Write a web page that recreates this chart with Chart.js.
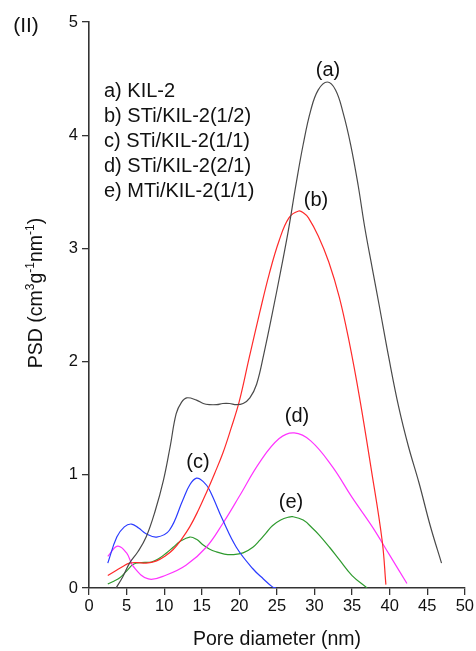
<!DOCTYPE html>
<html lang="en">
<head>
    <meta charset="UTF-8">
    <title>Pore size distribution</title>
    <style>
        body {
            margin: 0;
            background-color: #fff;
        }
        canvas {
            display: block;
        }
    </style>
</head>
<body>
    <canvas id="psd" width="476" height="651"></canvas>

    <script src="https://cdn.jsdelivr.net/npm/chart.js"></script>

    <script>
        // Curve samples (x = pore diameter nm, y = PSD)
        const kilX = [3.6, 4.5, 5.4, 6.5, 7.6, 8.8, 9.9, 10.8, 11.6, 12.3, 13.0, 14.3, 15.2, 16.0, 17.0, 17.8, 18.7, 19.6, 20.5, 21.4, 22.3, 23.3, 24.4, 25.5, 26.5, 27.5, 28.5, 29.5, 30.5, 31.7, 32.8, 33.8, 34.8, 35.8, 36.7, 37.7, 38.6, 39.9, 41.2, 42.5, 43.9, 45.4, 46.9];
        const kilY = [0, 0.1, 0.22, 0.32, 0.45, 0.68, 0.95, 1.25, 1.54, 1.64, 1.68, 1.66, 1.63, 1.62, 1.62, 1.63, 1.63, 1.62, 1.63, 1.68, 1.80, 2.08, 2.43, 2.80, 3.15, 3.55, 3.92, 4.22, 4.40, 4.47, 4.40, 4.20, 3.92, 3.56, 3.18, 2.82, 2.50, 2.03, 1.60, 1.25, 0.93, 0.55, 0.22];

        const sti12X = [2.5, 3.5, 4.5, 5.4, 6.5, 7.6, 9.0, 10.1, 11.2, 12.3, 13.4, 14.5, 15.6, 16.7, 17.8, 18.9, 20.0, 21.3, 22.7, 24.0, 25.3, 26.6, 27.9, 28.6, 29.2, 30.5, 31.9, 33.3, 34.6, 36.0, 37.5, 39.0, 39.5];
        const sti12Y = [0.11, 0.15, 0.19, 0.22, 0.225, 0.22, 0.24, 0.28, 0.34, 0.43, 0.54, 0.68, 0.84, 1.01, 1.19, 1.41, 1.65, 2.03, 2.43, 2.78, 3.07, 3.27, 3.33, 3.31, 3.27, 3.11, 2.88, 2.57, 2.18, 1.68, 1.07, 0.42, 0.03];

        const sti11X = [2.5, 3.7, 4.7, 5.65, 6.6, 7.6, 9.0, 10.7, 12.5, 13.4, 14.3, 15.2, 16.0, 17.8, 19.6, 21.8, 23.2, 24.4, 24.9];
        const sti11Y = [0.22, 0.45, 0.54, 0.565, 0.53, 0.48, 0.45, 0.51, 0.78, 0.91, 0.97, 0.94, 0.87, 0.60, 0.36, 0.17, 0.08, 0.01, 0];

        const sti21X = [2.5, 3.8, 5.0, 5.9, 7.9, 10.3, 12.9, 15.6, 17.8, 20.0, 22.7, 25.3, 27.3, 29.5, 32.4, 35.0, 37.7, 40.0, 42.3];
        const sti21Y = [0.28, 0.37, 0.31, 0.19, 0.08, 0.115, 0.20, 0.36, 0.57, 0.81, 1.11, 1.32, 1.37, 1.30, 1.07, 0.80, 0.54, 0.29, 0.04];

        const mti11X = [2.5, 3.3, 4.1, 5.0, 5.9, 7.0, 8.3, 9.3, 10.3, 11.2, 12.1, 13.4, 14.3, 15.2, 16.0, 16.9, 18.0, 19.1, 20.5, 21.8, 22.7, 23.6, 24.4, 25.5, 26.5, 27.1, 28.5, 29.7, 30.6, 32.0, 33.3, 35.0, 37.0];
        const mti11Y = [0.035, 0.06, 0.09, 0.15, 0.21, 0.225, 0.23, 0.26, 0.31, 0.36, 0.41, 0.45, 0.43, 0.38, 0.345, 0.32, 0.30, 0.295, 0.31, 0.36, 0.42, 0.49, 0.55, 0.60, 0.625, 0.63, 0.60, 0.53, 0.47, 0.36, 0.25, 0.11, 0];

        const legendLines = ['a) KIL-2', 'b) STi/KIL-2(1/2)', 'c) STi/KIL-2(1/1)', 'd) STi/KIL-2(2/1)', 'e) MTi/KIL-2(1/1)'];
        const curveTags = ['(a)', '(b)', '(c)', '(d)', '(e)'];

        const toPoints = (xs, ys) => xs.map((x, i) => ({ x: x, y: ys[i] }));

        const FONT = "'Liberation Sans', Arial, sans-serif";

        // text that is not part of the axes: panel tag, legend block, curve tags, axis titles
        const textPlugin = {
            id: 'figureText',
            afterDraw(chart) {
                const ctx = chart.ctx;
                ctx.save();
                ctx.fillStyle = '#111';
                ctx.textBaseline = 'middle';

                ctx.font = '21px ' + FONT;
                ctx.textAlign = 'center';
                ctx.fillText('(II)', 26, 26);

                ctx.font = '20px ' + FONT;
                ctx.textAlign = 'left';
                legendLines.forEach((t, i) => ctx.fillText(t, 104, 91 + i * 25));

                ctx.textAlign = 'center';
                const tagPos = [[328, 70], [316, 200], [198, 462], [297, 416], [291, 502]];
                curveTags.forEach((t, i) => ctx.fillText(t, tagPos[i][0], tagPos[i][1]));

                // x title
                ctx.font = '19.5px ' + FONT;
                ctx.textBaseline = 'alphabetic';
                ctx.fillText('Pore diameter (nm)', 277, 645);

                // y title with superscripts
                const parts = [['PSD (cm', 0], ['3', 1], ['g', 0], ['-1', 1], ['nm', 0], ['-1', 1], [')', 0]];
                const big = '19.5px ' + FONT, small = '12px ' + FONT;
                let total = 0;
                parts.forEach(p => { ctx.font = p[1] ? small : big; total += ctx.measureText(p[0]).width; });
                ctx.translate(42, 293);
                ctx.rotate(-Math.PI / 2);
                let x = -total / 2;
                ctx.textAlign = 'left';
                parts.forEach(p => {
                    ctx.font = p[1] ? small : big;
                    ctx.fillText(p[0], x, p[1] ? -8 : 0);
                    x += ctx.measureText(p[0]).width;
                });
                ctx.restore();
            }
        };

        const axisColor = '#333';

        new Chart(document.getElementById('psd').getContext('2d'), {
            type: 'line',
            data: {
                datasets: [
                    { data: toPoints(kilX, kilY), borderColor: '#4a4a4a' },
                    { data: toPoints(sti12X, sti12Y), borderColor: '#ff2a2a' },
                    { data: toPoints(sti11X, sti11Y), borderColor: '#2b3cff' },
                    { data: toPoints(sti21X, sti21Y), borderColor: '#ff33ff' },
                    { data: toPoints(mti11X, mti11Y), borderColor: '#2e9a2e' }
                ]
            },
            options: {
                responsive: false,
                animation: false,
                events: [],
                layout: { padding: { top: 22, right: 10, left: 0, bottom: 0 } },
                elements: {
                    line: { borderWidth: 1.2, tension: 0.4, fill: false },
                    point: { radius: 0 }
                },
                plugins: {
                    legend: { display: false },
                    tooltip: { enabled: false }
                },
                scales: {
                    x: {
                        type: 'linear',
                        min: 0,
                        max: 50,
                        afterFit: s => { s.height = 63; },
                        ticks: {
                            stepSize: 5,
                            color: '#111',
                            padding: 2,
                            maxRotation: 0,
                            font: { family: FONT, size: 16.5 }
                        },
                        grid: { drawOnChartArea: false, drawTicks: true, tickLength: 7, color: axisColor, lineWidth: 1.3 },
                        border: { color: axisColor, width: 1.6 }
                    },
                    y: {
                        min: 0,
                        max: 5,
                        afterFit: s => { s.width = 89; },
                        ticks: {
                            stepSize: 1,
                            color: '#111',
                            padding: 4,
                            font: { family: FONT, size: 16.5 }
                        },
                        grid: { drawOnChartArea: false, drawTicks: true, tickLength: 7, color: axisColor, lineWidth: 1.3 },
                        border: { color: axisColor, width: 1.6 }
                    }
                }
            },
            plugins: [textPlugin]
        });
    </script>
</body>
</html>
